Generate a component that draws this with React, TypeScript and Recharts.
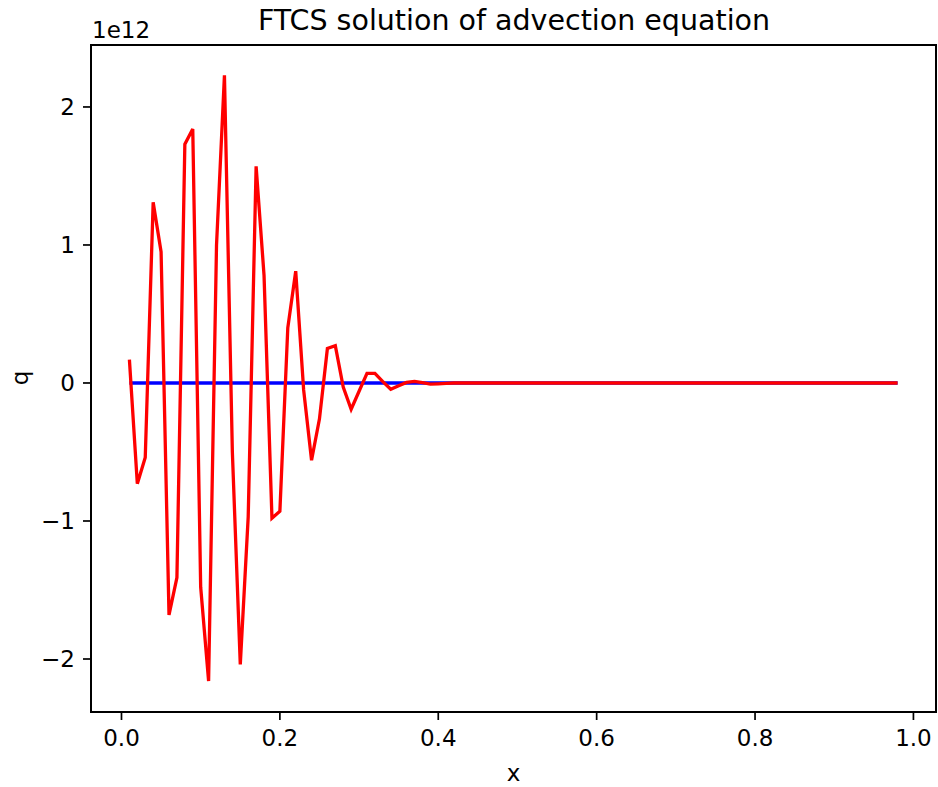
import React from "react";
import { LineChart, Line, XAxis, YAxis } from "recharts";

// x grid (cell centres)
const xValues: number[] = Array.from({ length: 98 }, (_, i) => Math.round((i + 1)) / 100);

// exact solution (blue) – flat at this scale
const exactValues: number[] = [
  0, 0, 0, 0, 0, 0, 0, 0, 0, 0, 0, 0, 0, 0, 0, 0, 0, 0, 0, 0,
  0, 0, 0, 0, 0, 0, 0, 0, 0, 0, 0, 0, 0, 0, 0, 0, 0, 0, 0, 0,
  0, 0, 0, 0, 0, 0, 0, 0, 0, 0, 0, 0, 0, 0, 0, 0, 0, 0, 0, 0,
  0, 0, 0, 0, 0, 0, 0, 0, 0, 0, 0, 0, 0, 0, 0, 0, 0, 0, 0, 0,
  0, 0, 0, 0, 0, 0, 0, 0, 0, 0, 0, 0, 0, 0, 0, 0, 0, 0,
];

// FTCS solution (red), in units of 1e12
const ftcsValuesE12: number[] = [
  0.17, -0.73, -0.54, 1.31, 0.95, -1.68, -1.41, 1.73, 1.84, -1.48,
  -2.16, 1.0, 2.23, -0.5, -2.04, -0.97, 1.57, 0.78, -0.98, -0.93,
  0.4, 0.81, -0.05, -0.56, -0.26, 0.25, 0.27, -0.03, -0.19, -0.06,
  0.07, 0.07, 0.01, -0.045, -0.02, 0.004, 0.012, 0.002, -0.008, -0.006,
  -0.003, 0, 0, 0, 0, 0, 0, 0, 0, 0,
  0, 0, 0, 0, 0, 0, 0, 0, 0, 0,
  0, 0, 0, 0, 0, 0, 0, 0, 0, 0,
  0, 0, 0, 0, 0, 0, 0, 0, 0, 0,
  0, 0, 0, 0, 0, 0, 0, 0, 0, 0,
  0, 0, 0, 0, 0, 0, 0, 0,
];

const SCALE = 1e12;
const xTicks = [0, 0.2, 0.4, 0.6, 0.8, 1.0];
const yTicksE12 = [-2, -1, 0, 1, 2];

const data = xValues.map((x, i) => ({
  x,
  exact: exactValues[i],
  q: ftcsValuesE12[i] * SCALE,
}));

const FONT = "DejaVu Sans";
const tickStyle = { fill: "#000", fontSize: 23, fontFamily: FONT };

export default function App() {
  return (
    <div style={{ position: "absolute", left: 0, top: 0, width: 938, height: 787, background: "#fff" }}>
      <LineChart
        width={938}
        height={787}
        data={data}
        margin={{ top: 45, right: 2, bottom: 0, left: 0 }}
      >
        <XAxis
          type="number"
          dataKey="x"
          domain={[-0.0385, 1.0285]}
          allowDataOverflow
          ticks={xTicks}
          interval={0}
          tickFormatter={(v: number) => v.toFixed(1)}
          height={75}
          axisLine={false}
          tickSize={8}
          tickMargin={10}
          tickLine={{ stroke: "#000", strokeWidth: 1.7 }}
          tick={tickStyle}
        />
        <YAxis
          type="number"
          domain={[-2.384 * SCALE, 2.449 * SCALE]}
          allowDataOverflow
          ticks={yTicksE12.map((t) => t * SCALE)}
          interval={0}
          tickFormatter={(v: number) => {
            const n = Math.round(v / SCALE);
            return n < 0 ? "\u2212" + Math.abs(n) : String(n);
          }}
          width={91}
          axisLine={false}
          tickSize={8}
          tickMargin={8}
          tickLine={{ stroke: "#000", strokeWidth: 1.7 }}
          tick={tickStyle}
        />
        <Line
          type="linear"
          dataKey="exact"
          stroke="#0000ff"
          strokeWidth={3.3}
          dot={false}
          activeDot={false}
          isAnimationActive={false}
        />
        <Line
          type="linear"
          dataKey="q"
          stroke="#ff0000"
          strokeWidth={3.3}
          dot={false}
          activeDot={false}
          isAnimationActive={false}
        />
      </LineChart>
      <div
        style={{
          position: "absolute",
          left: 90,
          top: 44,
          width: 847,
          height: 669,
          border: "2px solid #000",
          boxSizing: "border-box",
          pointerEvents: "none",
        }}
      />
      <svg
        width={938}
        height={787}
        style={{ position: "absolute", left: 0, top: 0, pointerEvents: "none" }}
      >
        <text x={514} y={30} textAnchor="middle" fontFamily={FONT} fontSize={28.5} fill="#000">
          FTCS solution of advection equation
        </text>
        <text x={92} y={38} textAnchor="start" fontFamily={FONT} fontSize={23} fill="#000">
          1e12
        </text>
        <text x={513.5} y={781} textAnchor="middle" fontFamily={FONT} fontSize={23} fill="#000">
          x
        </text>
        <text
          x={28}
          y={378}
          textAnchor="middle"
          fontFamily={FONT}
          fontSize={23}
          fill="#000"
          transform="rotate(-90 28 378)"
        >
          q
        </text>
      </svg>
    </div>
  );
}
